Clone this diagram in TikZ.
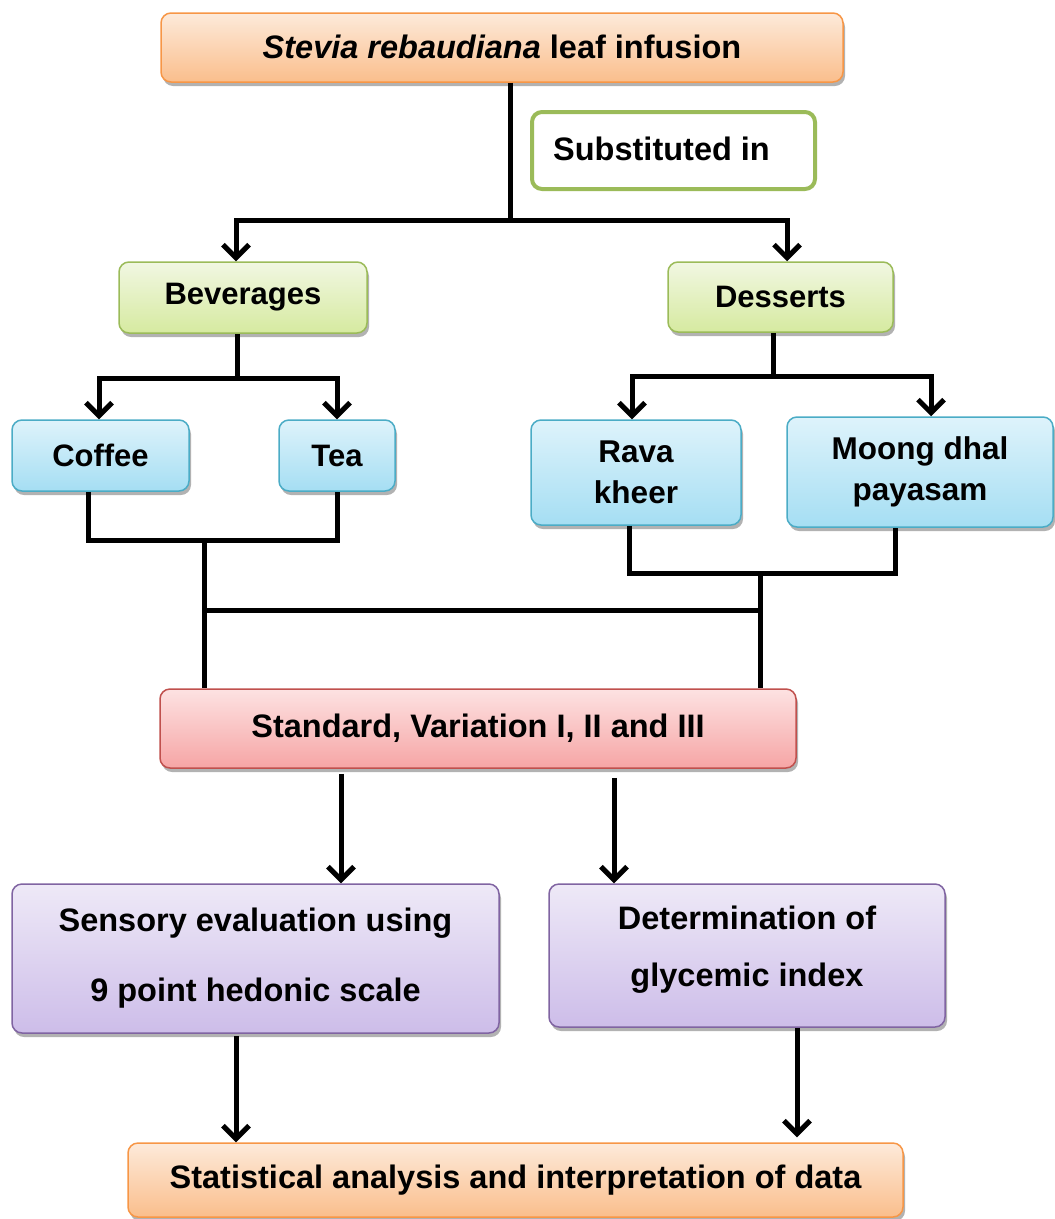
\documentclass[tikz,border=0pt]{standalone}
\usepackage{fontspec}
\setmainfont{Liberation Sans}
\usetikzlibrary{arrows.meta,shadows}
\definecolor{orBd}{RGB}{247,150,70}
\definecolor{orTop}{RGB}{253,234,218}
\definecolor{orBot}{RGB}{250,190,140}
\definecolor{grBd}{RGB}{155,187,89}
\definecolor{grTop}{RGB}{241,247,226}
\definecolor{grBot}{RGB}{214,234,160}
\definecolor{blBd}{RGB}{75,172,198}
\definecolor{blTop}{RGB}{222,243,251}
\definecolor{blBot}{RGB}{165,222,243}
\definecolor{rdBd}{RGB}{192,80,77}
\definecolor{rdTop}{RGB}{253,226,226}
\definecolor{rdBot}{RGB}{246,165,165}
\definecolor{puBd}{RGB}{128,100,162}
\definecolor{puTop}{RGB}{238,233,247}
\definecolor{puBot}{RGB}{205,189,233}
\tikzset{
  box/.style={draw, rounded corners=10pt, line width=1.5pt, inner sep=0pt,
    align=center, font=\bfseries\fontsize{31}{37}\selectfont,
    drop shadow={shadow xshift=2pt, shadow yshift=-4pt, opacity=0.3, fill=black}},
  bigtext/.style={font=\bfseries\fontsize{32.5}{38}\selectfont},
  orbox/.style={box, draw=orBd, top color=orTop, bottom color=orBot},
  grbox/.style={box, draw=grBd, top color=grTop, bottom color=grBot},
  blbox/.style={box, draw=blBd, top color=blTop, bottom color=blBot},
  rdbox/.style={box, draw=rdBd, top color=rdTop, bottom color=rdBot},
  pubox/.style={box, draw=puBd, top color=puTop, bottom color=puBot},
  conn/.style={line width=5pt, black},
  arr/.style={conn, -{Straight Barb[length=13pt, width=26pt]}},
}
\begin{document}
\begin{tikzpicture}[x=1pt, y=-1pt]
\useasboundingbox (0,0) rectangle (1055,1219);
\node[orbox, bigtext, minimum width=682pt, minimum height=69pt] (top) at (502,47.5)
  {\raisebox{1.5pt}{\textit{Stevia rebaudiana} leaf infusion}};
\node[draw=grBd, fill=white, line width=4pt, rounded corners=10pt, inner sep=0pt,
  minimum width=283pt, minimum height=77pt, font=\bfseries\fontsize{32.5}{38}\selectfont]
  (sub) at (673.5,150.5) {\raisebox{3pt}{Substituted in}\kern24pt\null};
\node[grbox, minimum width=248pt, minimum height=71pt] (bev) at (243,297.5) {Beverages};
\node[grbox, minimum width=225pt, minimum height=70pt] (des) at (780.5,297) {Desserts};
\node[blbox, minimum width=177pt, minimum height=71pt] (cof) at (100.5,455.5) {Coffee};
\node[blbox, minimum width=116pt, minimum height=71pt] (tea) at (337,455.5) {Tea};
\node[blbox, minimum width=210pt, minimum height=105pt,
  font=\bfseries\fontsize{31.5}{41}\selectfont] (rava) at (636,472.5) {Rava\\kheer};
\node[blbox, minimum width=266pt, minimum height=110pt,
  font=\bfseries\fontsize{31.5}{41}\selectfont] (moong) at (920,472) {Moong dhal\\payasam};
\node[rdbox, bigtext, minimum width=636pt, minimum height=79pt] (std) at (478,728.5)
  {\raisebox{6pt}{Standard, Variation I, II and III}};
\node[pubox, minimum width=487pt, minimum height=149pt,
  font=\bfseries\fontsize{32.5}{70}\selectfont] (sens) at (255.5,958.5)
  {Sensory evaluation using\\9 point hedonic scale};
\node[pubox, minimum width=396pt, minimum height=143pt,
  font=\bfseries\fontsize{32.5}{57}\selectfont] (det) at (747,955.5)
  {\raisebox{9pt}[\height][\depth]{\begin{tabular}{@{}c@{}}Determination of\\glycemic index\end{tabular}}};
\node[orbox, bigtext, minimum width=775pt, minimum height=74pt] (stat) at (515.5,1180)
  {\raisebox{4pt}{Statistical analysis and interpretation of data}};
% junction coordinates
\coordinate (j1) at (510,220);
\coordinate (j2) at (237,378);
\coordinate (j2b) at (773,376);
\coordinate (j3) at (204,540);
\coordinate (j4) at (760,573);
\coordinate (m1) at (204,610);
\coordinate (m2) at (760,610);
% top split
\draw[conn] (top.south -| j1) -- (j1);
\draw[arr] (j1) -| ([xshift=-7pt]bev.north);
\draw[arr] (j1) -| ([xshift=6.5pt]des.north);
% beverages split
\draw[conn] (bev.south -| j2) -- (j2);
\draw[arr] (j2) -| ([xshift=-1.5pt]cof.north);
\draw[arr] (j2) -| (tea.north);
% desserts split
\draw[conn] (des.south -| j2b) -- (j2b);
\draw[arr] (j2b) -| ([xshift=-4pt]rava.north);
\draw[arr] (j2b) -| ([xshift=11pt]moong.north);
% joins
\draw[conn] ([xshift=-12.5pt]cof.south) |- (j3) -| (tea.south);
\draw[conn] (j3) -- (std.north -| j3);
\draw[conn] ([xshift=-7pt]rava.south) |- (j4) -| ([xshift=-25pt]moong.south);
\draw[conn] (j4) -- (std.north -| j4);
\draw[conn] (m1) -- (m2);
% to evaluation
\draw[arr] ([xshift=-137pt,yshift=-5pt]std.south) -- ([xshift=-137pt]std.south |- sens.north);
\draw[arr] ([xshift=136pt,yshift=-9pt]std.south) -- ([xshift=136pt]std.south |- det.north);
% to statistics
\draw[arr] ([xshift=-19.5pt,yshift=-2pt]sens.south) -- ([xshift=-19.5pt]sens.south |- stat.north);
\draw[arr] ([xshift=50pt]det.south) -- ([xshift=50pt,yshift=5pt]det.south |- stat.north);
\end{tikzpicture}
\end{document}
